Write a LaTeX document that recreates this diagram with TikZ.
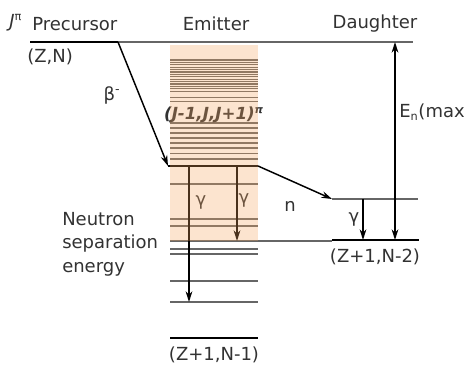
\documentclass[tikz,border=0pt]{standalone}
\usepackage{fontspec}
\setmainfont{DejaVu Sans}
\usetikzlibrary{arrows.meta,positioning,calc}
\definecolor{emitfill}{RGB}{245,165,95}
\definecolor{txtgray}{RGB}{50,50,50}

\begin{document}
\begin{tikzpicture}[x=0.75pt,y=-0.75pt,
        level/.style={draw=black!60, line width=0.8pt},
        ground/.style={draw=black, line width=2.2pt},
        trans/.style={-{Stealth[length=8pt,width=5pt]}, line width=1.1pt},
        both/.style={{Stealth[length=8pt,width=5pt]}-{Stealth[length=8pt,width=5pt]}, line width=1.1pt},
        txt/.style={font=\fontsize{13.5}{17.6}\selectfont, text=txtgray, inner sep=0pt},
      ]
      \useasboundingbox (0,0) rectangle (464,366);

      % Headers
      \node [txt, anchor=west] (jpi) at (9,23) {\textit{J}\textsuperscript{\fontsize{8.5}{8}\selectfont π}};
      \node [txt, anchor=west] (prec) at (32,24) {Precursor};
      \node [txt] (emit) at (216,24) {Emitter};
      \node [txt] (daug) at (375,24) {Daughter};

      % Precursor level
      \coordinate (preL) at (30,42);
      \coordinate (preR) at (118,42);
      \coordinate (topR) at (413,42);
      \draw [ground] (preL) -- (preR);
      \draw [level] (preR) -- (topR);
      \node [txt, anchor=west] (zn) at (27,57) {(Z,N)};

      % Emitter: dense levels
      \foreach \y in {60,62.4,...,93} \draw [level] (170,\y) -- (258,\y);
      \foreach \y in {97.5,101.5,123,128,133,138,143,148,153.5,159} \draw [level] (170,\y) -- (258,\y);
      \node [txt, font=\fontsize{12.5}{14}\selectfont\bfseries\itshape] (spins) at (214,115)
        {(J-1,J,J+1)\textsuperscript{\fontsize{8}{8}\selectfont π}};

      % Emitter: state and lower levels
      \coordinate (emL) at (168,166);
      \coordinate (emR) at (258,166);
      \draw [ground] (emL) -- (emR);
      \foreach \y in {184,219,226,249,254,281,302} \draw [level] (170,\y) -- (258,\y);
      \coordinate (snL) at (170,241);
      \coordinate (snR) at (332,241);
      \draw [level] (snL) -- (snR);
      \coordinate (gsL) at (170,338);
      \coordinate (gsR) at (258,338);
      \draw [ground] (gsL) -- (gsR);
      \node [txt] (zn1) at (214,355) {(Z+1,N-1)};
      \node [txt, anchor=west, align=left] (sep) at (62,244) {Neutron\\separation\\energy};

      % Daughter levels
      \coordinate (dnL) at (332,199);
      \coordinate (dnR) at (418,199);
      \draw [level] (dnL) -- (dnR);
      \coordinate (dgL) at (332,240);
      \coordinate (dgR) at (419,240);
      \draw [ground] (dgL) -- (dgR);
      \node [txt] (zn2) at (375,257) {(Z+1,N-2)};

      % Transitions
      \draw [trans] (preR) -- (emL);
      \node [txt] (beta) at (112,95) {β\textsuperscript{-}};
      \draw [trans] (emR) -- (dnL);
      \node [txt] (nlab) at (290,206) {n};
      \coordinate (g1a) at (189,166);
      \coordinate (g1b) at (189,302);
      \draw [trans] (g1a) -- (g1b);
      \coordinate (g2a) at (237,166);
      \coordinate (g2b) at (237,241);
      \draw [trans] (g2a) -- (g2b);
      \node [txt] (gam1) at (201,202) {γ};
      \node [txt] (gam2) at (244,200) {γ};
      \coordinate (g3a) at (363,199);
      \coordinate (g3b) at (363,240);
      \draw [trans] (g3a) -- (g3b);
      \node [txt] (gam3) at (354,219) {γ};
      \coordinate (ema) at (395,42);
      \coordinate (emb) at (395,240);
      \draw [both] (ema) -- (emb);
      \node [txt, anchor=west] (enmax) at (399,112) {E\textsubscript{\fontsize{8.5}{8}\selectfont n}(max};

      % Emitter shading
      \fill [emitfill, fill opacity=0.3] (170,45) rectangle (258,241);
    \end{tikzpicture}
\end{document}
